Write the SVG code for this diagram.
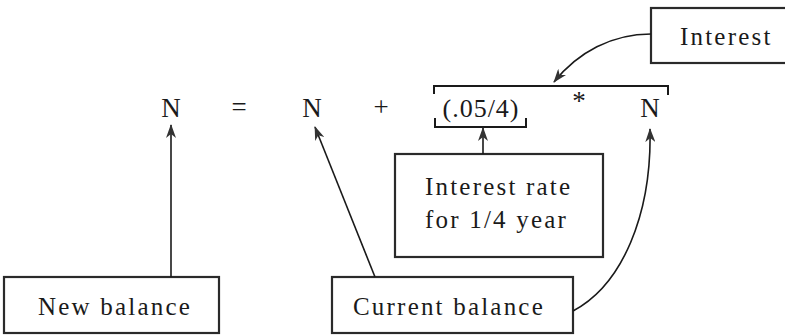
<svg xmlns="http://www.w3.org/2000/svg" width="785" height="336" viewBox="0 0 785 336">
<style>
.box{fill:#fff;stroke:#2a2a2a;stroke-width:2.2}
.lbl{font-family:"Liberation Serif",serif;font-size:25px;letter-spacing:2.2px;fill:#1a1a1a}
.eq{font-family:"Liberation Serif",serif;font-size:27px;fill:#1a1a1a;text-anchor:middle}
.con{fill:none;stroke:#1a1a1a;stroke-width:1.6}
.brk{fill:none;stroke:#1a1a1a;stroke-width:2}
</style>
<defs>
<marker id="ah" viewBox="0 0 14 10" refX="13" refY="5" markerWidth="14" markerHeight="10" markerUnits="userSpaceOnUse" orient="auto">
<path d="M0,0 L14,5 L0,10 L4,5 z" fill="#333"/>
</marker>
</defs>
<g id="equation">
<text class="eq" x="171" y="117">N</text>
<text class="eq" x="239" y="116" font-size="20">=</text>
<text class="eq" x="312" y="117">N</text>
<text class="eq" x="381" y="116" font-size="20">+</text>
<text class="eq" x="481" y="117" style="font-size:26px;letter-spacing:1px">(.05/4)</text>
<text class="eq" x="579" y="110" font-size="20">*</text>
<text class="eq" x="650" y="117">N</text>
<path class="brk" d="M434,94 V86 H668 V95"/>
<path class="brk" d="M435,118 V127 H526 V118"/>
</g>
<g id="interest">
<rect class="box" x="651" y="8" width="150" height="55"/>
<text class="lbl" x="680" y="45">Interest</text>
</g>
<g id="rate">
<rect class="box" x="395" y="154" width="208" height="103"/>
<text class="lbl" x="425" y="195">Interest rate</text>
<text class="lbl" x="425" y="228">for 1/4 year</text>
</g>
<g id="newbal">
<rect class="box" x="4" y="277" width="215" height="56"/>
<text class="lbl" x="38" y="315">New balance</text>
</g>
<g id="curbal">
<rect class="box" x="332" y="277" width="241" height="56"/>
<text class="lbl" x="353" y="315">Current balance</text>
</g>
<g id="connectors">
<path class="con" d="M651,34 C612,34 578,52 554,82" marker-end="url(#ah)"/>
<path class="con" d="M483,154 V128" marker-end="url(#ah)"/>
<path class="con" d="M171,277 V125" marker-end="url(#ah)"/>
<path class="con" d="M375,277 L315,127" marker-end="url(#ah)"/>
<path class="con" d="M573,311 C622,285 652,215 650,129" marker-end="url(#ah)"/>
</g>
</svg>
